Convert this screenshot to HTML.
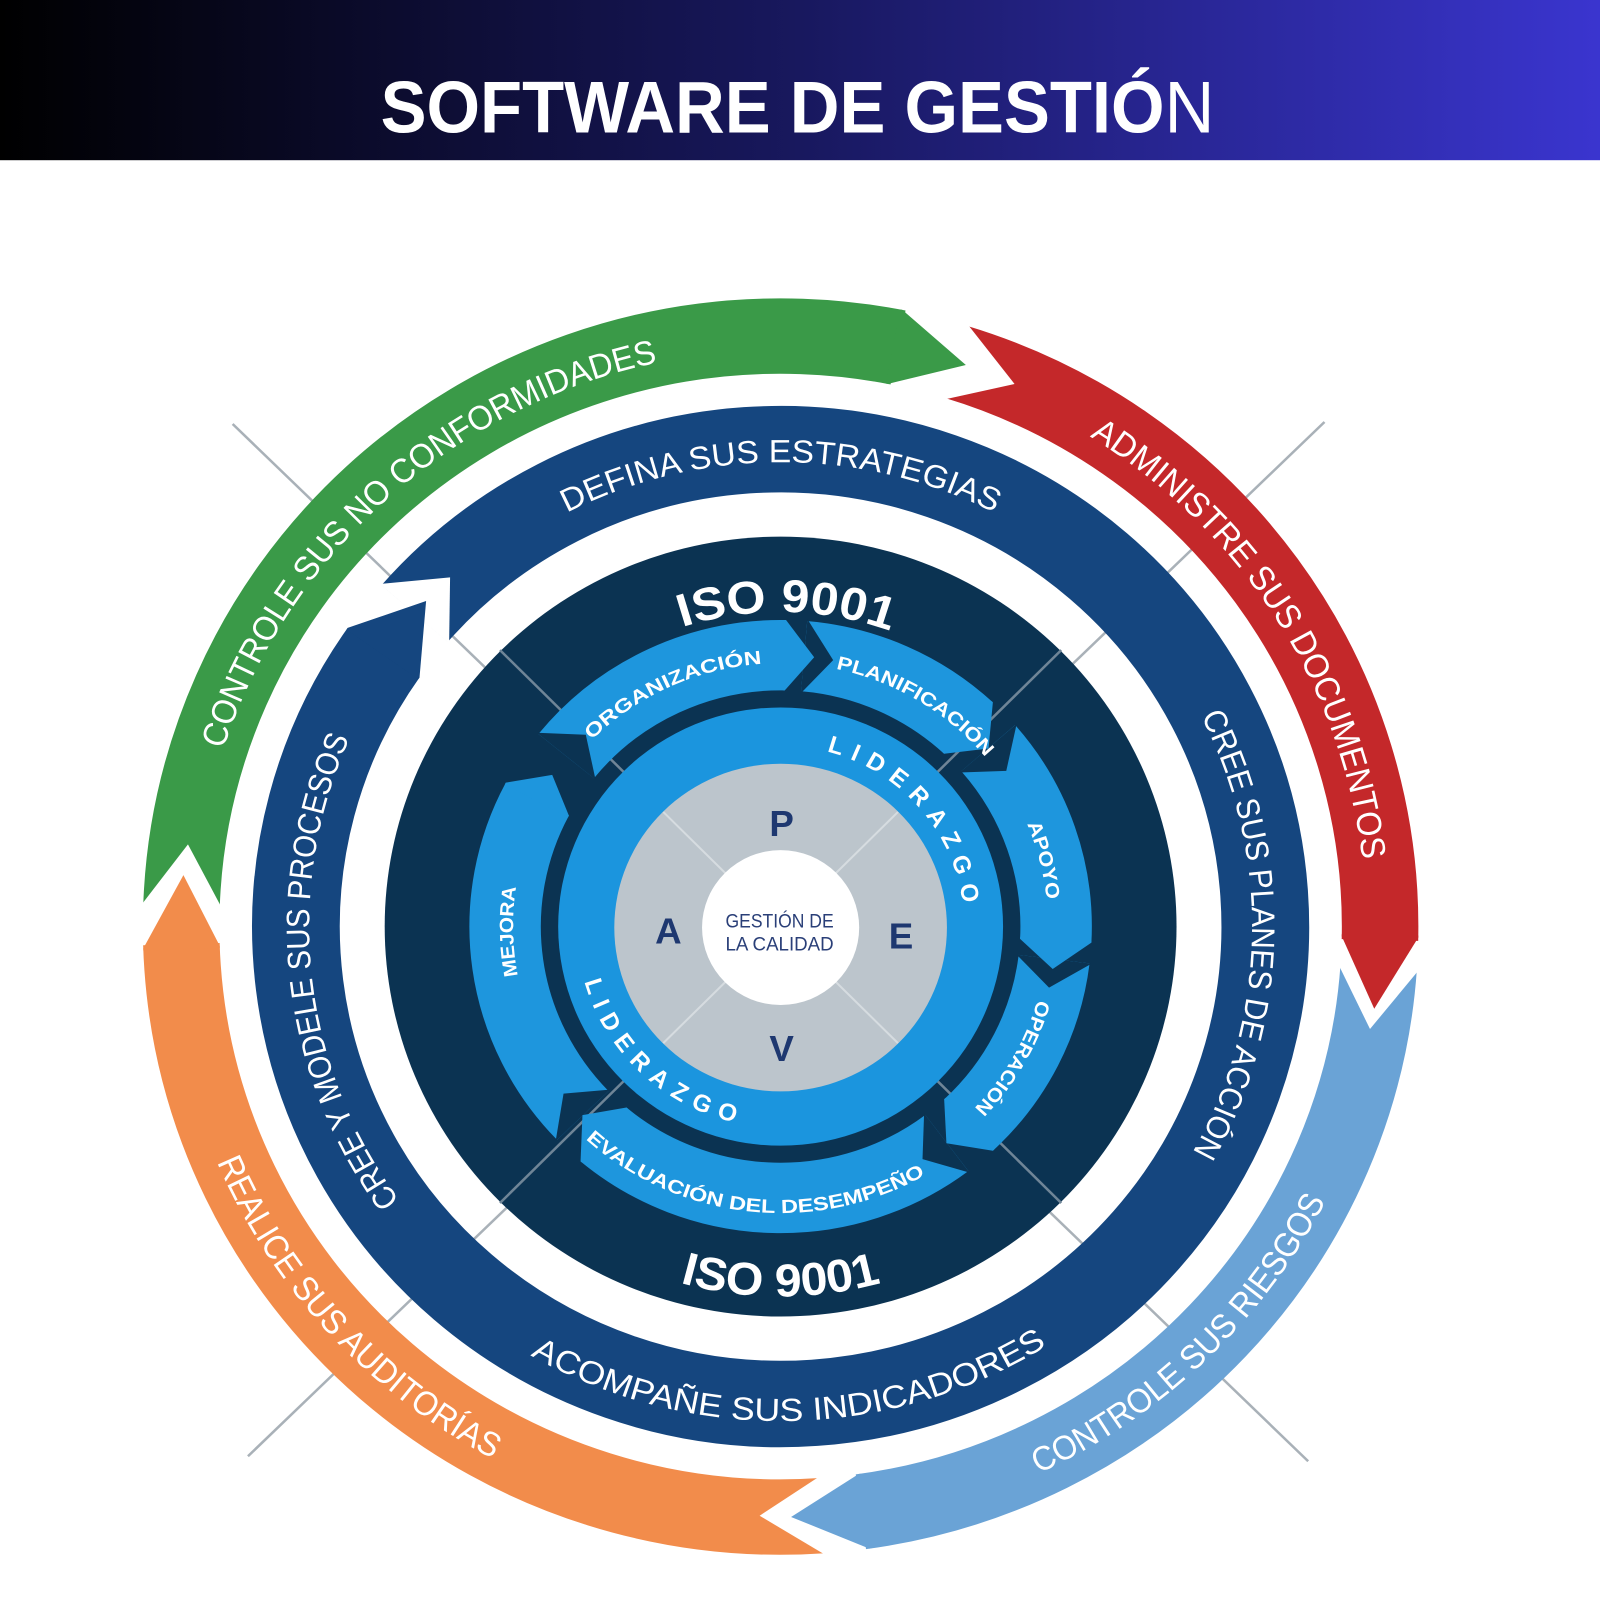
<!DOCTYPE html>
<html><head><meta charset="utf-8"><style>html,body{margin:0;padding:0;background:#fff}svg{display:block}</style></head>
<body>
<svg width="1600" height="1600" viewBox="0 0 1568 1568" xmlns="http://www.w3.org/2000/svg" font-family="Liberation Sans, sans-serif">
<defs>
<linearGradient id="hg" x1="0" y1="0" x2="1" y2="0">
<stop offset="0" stop-color="#000"/><stop offset="0.5" stop-color="#18185e"/><stop offset="1" stop-color="#3a35cf"/>
</linearGradient>
<path id="cw574" d="M765,1479 A574,574 0 1 1 765,331 A574,574 0 1 1 765,1479"/>
<path id="cw462" d="M765,1367 A462,462 0 1 1 765,443 A462,462 0 1 1 765,1367"/>
<path id="cw313" d="M765,1218 A313,313 0 1 1 765,592 A313,313 0 1 1 765,1218"/>
<path id="cw262" d="M765,1167 A262,262 0 1 1 765,643 A262,262 0 1 1 765,1167"/>
<path id="cw180" d="M765,1085 A180,180 0 1 1 765,725 A180,180 0 1 1 765,1085"/>
<path id="ccw600" d="M765,305 A600,600 0 1 0 765,1505 A600,600 0 1 0 765,305"/>
<path id="ccw492" d="M765,413 A492,492 0 1 0 765,1397 A492,492 0 1 0 765,413"/>
<path id="ccw368" d="M765,537 A368,368 0 1 0 765,1273 A368,368 0 1 0 765,537"/>
<path id="ccw285" d="M765,620 A285,285 0 1 0 765,1190 A285,285 0 1 0 765,620"/>
<path id="ccw200" d="M765,705 A200,200 0 1 0 765,1105 A200,200 0 1 0 765,705"/>
</defs>

<rect x="0" y="0" width="1568" height="157" fill="url(#hg)"/>
<text x="373" y="130" font-size="72" font-weight="bold" fill="#fff" textLength="817" lengthAdjust="spacingAndGlyphs">SOFTWARE DE GESTIÓ<tspan font-weight="normal">N</tspan></text>

<g transform="translate(0,16.6) scale(1,0.985)">
<g stroke="#a9b1b8" stroke-width="2.5">
<line x1="228" y1="405" x2="1282" y2="1437"/>
<line x1="1298" y1="403" x2="243" y2="1432"/>
</g>

<g fill="none" stroke-width="75">
<circle cx="765" cy="905" r="587.5" pathLength="360" stroke-dasharray="99.3 260.7" stroke="#3a9a48" transform="rotate(-178 765 905)"/>
<circle cx="765" cy="905" r="587.5" pathLength="360" stroke-dasharray="74.3 285.7" stroke="#c4282a" transform="rotate(-73 765 905)"/>
<circle cx="765" cy="905" r="587.5" pathLength="360" stroke-dasharray="78.3 281.7" stroke="#6aa3d6" transform="rotate(4 765 905)"/>
<circle cx="765" cy="905" r="587.5" pathLength="360" stroke-dasharray="92.3 267.7" stroke="#f28c4b" transform="rotate(86 765 905)"/>
</g>
<g fill="#fff">
<polygon points="1313,904.5 1392,904.5 1348.3,966.4" transform="rotate(-178 765 905)"/>
<polygon points="1313,904.5 1392,904.5 1348.3,966.4" transform="rotate(-73 765 905)"/>
<polygon points="1313,904.5 1392,904.5 1348.3,966.4" transform="rotate(4 765 905)"/>
<polygon points="1313,904.5 1392,904.5 1348.3,966.4" transform="rotate(86 765 905)"/>
</g>
<polygon points="1315,903 1390,903 1390,905 1348.1,976.6 1315,905" fill="#3a9a48" transform="rotate(-79 765 905)"/>
<polygon points="1315,903 1390,903 1390,905 1348.1,976.6 1315,905" fill="#c4282a" transform="rotate(1 765 905)"/>
<polygon points="1315,903 1390,903 1390,905 1348.1,976.6 1315,905" fill="#6aa3d6" transform="rotate(82 765 905)"/>
<polygon points="1315,903 1390,903 1390,905 1348.1,976.6 1315,905" fill="#f28c4b" transform="rotate(178 765 905)"/>

<circle cx="765" cy="905" r="475" fill="none" stroke="#15467f" stroke-width="86" pathLength="360" stroke-dasharray="354 6" transform="rotate(-139 765 905)"/>
<polygon points="1195,904.5 1285,904.5 1237.4,954.7" fill="#fff" transform="rotate(-139 765 905)"/>
<polygon points="1197,903 1283,903 1283,905 1235.4,971.1 1197,905" fill="#15467f" transform="rotate(-145 765 905)"/>

<circle cx="765" cy="905" r="388" fill="#0b3352"/>
<g stroke="#6f8597" stroke-width="2.5">
<line x1="490" y1="630" x2="1040" y2="1180"/>
<line x1="1040" y1="630" x2="490" y2="1180"/>
</g>

<g fill="none" stroke="#1e96dd" stroke-width="70">
<circle cx="765" cy="905" r="270" pathLength="360" stroke-dasharray="52 308" transform="rotate(-141 765 905)"/>
<circle cx="765" cy="905" r="270" pathLength="360" stroke-dasharray="38 322" transform="rotate(-85 765 905)"/>
<circle cx="765" cy="905" r="270" pathLength="360" stroke-dasharray="44 316" transform="rotate(-41 765 905)"/>
<circle cx="765" cy="905" r="270" pathLength="360" stroke-dasharray="40 320" transform="rotate(7 765 905)"/>
<circle cx="765" cy="905" r="270" pathLength="360" stroke-dasharray="77 283" transform="rotate(53 765 905)"/>
<circle cx="765" cy="905" r="270" pathLength="360" stroke-dasharray="72 288" transform="rotate(136 765 905)"/>
</g>
<g fill="#0b3352">
<polygon points="998,904.5 1072,904.5 1033.5,933.2" transform="rotate(-141 765 905)"/>
<polygon points="998,904.5 1072,904.5 1033.5,933.2" transform="rotate(-85 765 905)"/>
<polygon points="998,904.5 1072,904.5 1033.5,933.2" transform="rotate(-41 765 905)"/>
<polygon points="998,904.5 1072,904.5 1033.5,933.2" transform="rotate(7 765 905)"/>
<polygon points="998,904.5 1072,904.5 1033.5,933.2" transform="rotate(53 765 905)"/>
<polygon points="998,904.5 1072,904.5 1033.5,933.2" transform="rotate(136 765 905)"/>
</g>
<g fill="#1e96dd">
<polygon points="1000,903 1070,903 1070,905 1033.5,933.2 1000,905" transform="rotate(-89 765 905)"/>
<polygon points="1000,903 1070,903 1070,905 1033.5,933.2 1000,905" transform="rotate(-47 765 905)"/>
<polygon points="1000,903 1070,903 1070,905 1033.5,933.2 1000,905" transform="rotate(3 765 905)"/>
<polygon points="1000,903 1070,903 1070,905 1033.5,933.2 1000,905" transform="rotate(47 765 905)"/>
<polygon points="1000,903 1070,903 1070,905 1033.5,933.2 1000,905" transform="rotate(130 765 905)"/>
<polygon points="1000,903 1070,903 1070,905 1033.5,933.2 1000,905" transform="rotate(-152 765 905)"/>
</g>

<circle cx="765" cy="905" r="218" fill="#1b95de"/>
<circle cx="765" cy="906" r="163" fill="#bcc5cc"/>
<g stroke="#d6dce0" stroke-width="2">
<line x1="650" y1="791" x2="880" y2="1021"/>
<line x1="880" y1="791" x2="650" y2="1021"/>
</g>
<circle cx="765" cy="906" r="77" fill="#fff"/>

<g fill="#fff" font-size="34" text-anchor="middle">
<text><textPath href="#cw574" startOffset="38.3%" textLength="601" lengthAdjust="spacingAndGlyphs">CONTROLE SUS NO CONFORMIDADES</textPath></text>
<text><textPath href="#cw574" startOffset="66%" textLength="516" lengthAdjust="spacingAndGlyphs">ADMINISTRE SUS DOCUMENTOS</textPath></text>
<text><textPath href="#ccw600" startOffset="36.8%" textLength="408" lengthAdjust="spacingAndGlyphs">REALICE SUS AUDITORÍAS</textPath></text>
<text><textPath href="#ccw600" startOffset="62.2%" textLength="398" lengthAdjust="spacingAndGlyphs">CONTROLE SUS RIESGOS</textPath></text>
</g>
<g fill="#fff" font-size="32" text-anchor="middle">
<text><textPath href="#cw462" startOffset="50%" textLength="435" lengthAdjust="spacingAndGlyphs">DEFINA SUS ESTRATEGIAS</textPath></text>
<text><textPath href="#cw462" startOffset="75.3%" textLength="452" lengthAdjust="spacingAndGlyphs">CREE SUS PLANES DE ACCIÓN</textPath></text>
<text><textPath href="#cw462" startOffset="23.3%" textLength="484" lengthAdjust="spacingAndGlyphs">CREE Y MODELE SUS PROCESOS</textPath></text>
<text><textPath href="#ccw492" startOffset="50.3%" textLength="532" lengthAdjust="spacingAndGlyphs">ACOMPAÑE SUS INDICADORES</textPath></text>
</g>
<g fill="#fff" font-size="46" font-weight="bold" text-anchor="middle">
<text><textPath href="#cw313" startOffset="50.3%" textLength="208" lengthAdjust="spacingAndGlyphs">ISO 9001</textPath></text>
<text><textPath href="#ccw368" startOffset="50%" textLength="200" lengthAdjust="spacingAndGlyphs">ISO 9001</textPath></text>
</g>
<g fill="#fff" font-size="19" font-weight="bold" text-anchor="middle">
<text><textPath href="#cw262" startOffset="43.2%" textLength="187" lengthAdjust="spacingAndGlyphs">ORGANIZACIÓN</textPath></text>
<text><textPath href="#cw262" startOffset="58.6%" textLength="174" lengthAdjust="spacingAndGlyphs">PLANIFICACIÓN</textPath></text>
<text><textPath href="#cw262" startOffset="71%" textLength="78" lengthAdjust="spacingAndGlyphs">APOYO</textPath></text>
<text><textPath href="#cw262" startOffset="83.3%" textLength="126" lengthAdjust="spacingAndGlyphs">OPERACIÓN</textPath></text>
<text><textPath href="#cw262" startOffset="24.7%" textLength="89" lengthAdjust="spacingAndGlyphs">MEJORA</textPath></text>
<text><textPath href="#ccw285" startOffset="48.3%" textLength="358" lengthAdjust="spacingAndGlyphs">EVALUACIÓN DEL DESEMPEÑO</textPath></text>
</g>
<g fill="#fff" font-size="24" font-weight="bold" text-anchor="middle">
<text><textPath href="#cw180" startOffset="63.5%" textLength="214" lengthAdjust="spacing">LIDERAZGO</textPath></text>
<text><textPath href="#ccw200" startOffset="37.9%" textLength="213" lengthAdjust="spacing">LIDERAZGO</textPath></text>
</g>
<g fill="#1e3870" font-size="36" font-weight="bold" text-anchor="middle">
<text x="766" y="815">P</text>
<text x="883" y="927">E</text>
<text x="766" y="1039">V</text>
<text x="655" y="922">A</text>
</g>
<g fill="#2a3f78" font-size="19" text-anchor="middle">
<text x="764" y="906" textLength="106" lengthAdjust="spacingAndGlyphs">GESTIÓN DE</text>
<text x="764" y="929" textLength="106" lengthAdjust="spacingAndGlyphs">LA CALIDAD</text>
</g>
</g>
</svg>
</body></html>
